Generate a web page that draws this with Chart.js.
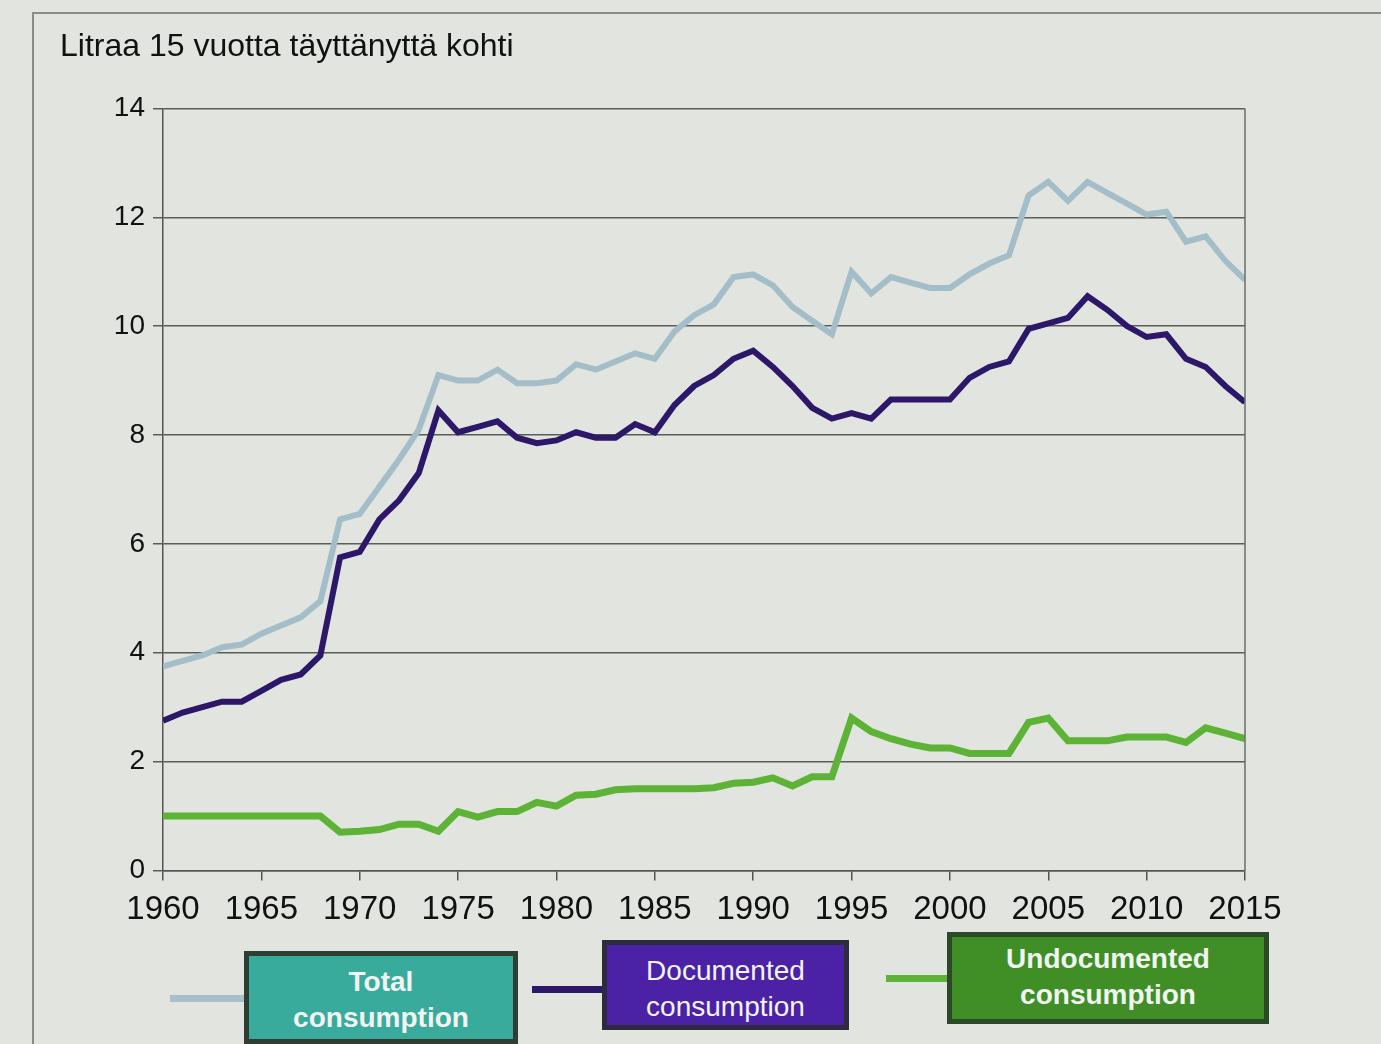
<!DOCTYPE html>
<html>
<head>
<meta charset="utf-8">
<script src="https://cdn.jsdelivr.net/npm/chart.js@4.4.1/dist/chart.umd.min.js"></script>
<style>
  html, body { margin: 0; padding: 0; }
  body { width: 1381px; height: 1044px; background: #e2e5df; position: relative; overflow: hidden; font-family: "Liberation Sans", Arial, sans-serif; }
  #frame { position: absolute; left: 32px; top: 12px; width: 1400px; height: 1100px; border-top: 2px solid #8a8c88; border-left: 2px solid #8a8c88; }
  #wrap { position: absolute; left: 0; top: 0; width: 1381px; height: 940px; }
  .leg-line { position: absolute; height: 7px; }
  .leg-box { position: absolute; color: #f2f4f2; font-size: 28px; text-align: center; line-height: 36px; box-sizing: border-box; border: 5px solid #2f3d33; }
</style>
</head>
<body>
<div id="frame"></div>
<div id="wrap"><canvas id="alcoholChart"></canvas></div>

<div class="leg-line" style="left:170px; top:995px; width:76px; background:#a9c0ca;"></div>
<div class="leg-box" style="left:244px; top:951px; width:274px; height:93px; background:#39ab9d; font-weight:bold; padding-top:8px;">Total<br>consumption</div>

<div class="leg-line" style="left:532px; top:986px; width:72px; background:#2c1768;"></div>
<div class="leg-box" style="left:602px; top:940px; width:247px; height:90px; background:#4b22a6; border-color:#2e2c3c; padding-top:8px;">Documented<br>consumption</div>

<div class="leg-line" style="left:886px; top:975px; width:64px; background:#5cb335;"></div>
<div class="leg-box" style="left:947px; top:932px; width:322px; height:92px; background:#3f8f26; border-color:#2d4a28; padding-top:4px; font-weight:bold;">Undocumented<br>consumption</div>

<script>
// Alcohol consumption in Finland, litres per inhabitant aged 15+
const years = [];
for (let y = 1960; y <= 2015; y++) years.push(y);

const totalConsumption = [
  3.75, 3.85, 3.95, 4.1, 4.15, 4.35, 4.5, 4.65, 4.95, 6.45,
  6.55, 7.05, 7.55, 8.1, 9.1, 9.0, 9.0, 9.2, 8.95, 8.95,
  9.0, 9.3, 9.2, 9.35, 9.5, 9.4, 9.9, 10.2, 10.4, 10.9,
  10.95, 10.75, 10.35, 10.1, 9.85, 11.0, 10.6, 10.9, 10.8, 10.7,
  10.7, 10.95, 11.15, 11.3, 12.4, 12.65, 12.3, 12.65, 12.45, 12.25,
  12.05, 12.1, 11.55, 11.65, 11.2, 10.85
];

const documentedConsumption = [
  2.75, 2.9, 3.0, 3.1, 3.1, 3.3, 3.5, 3.6, 3.95, 5.75,
  5.85, 6.45, 6.8, 7.3, 8.45, 8.05, 8.15, 8.25, 7.95, 7.85,
  7.9, 8.05, 7.95, 7.95, 8.2, 8.05, 8.55, 8.9, 9.1, 9.4,
  9.55, 9.25, 8.9, 8.5, 8.3, 8.4, 8.3, 8.65, 8.65, 8.65,
  8.65, 9.05, 9.25, 9.35, 9.95, 10.05, 10.15, 10.55, 10.3, 10.0,
  9.8, 9.85, 9.4, 9.25, 8.9, 8.6
];

const undocumentedConsumption = [
  1.0, 1.0, 1.0, 1.0, 1.0, 1.0, 1.0, 1.0, 1.0, 0.7,
  0.72, 0.75, 0.85, 0.85, 0.72, 1.08, 0.98, 1.08, 1.08, 1.25,
  1.18, 1.38, 1.4, 1.48, 1.5, 1.5, 1.5, 1.5, 1.52, 1.6,
  1.62, 1.7, 1.55, 1.72, 1.72, 2.8, 2.55, 2.42, 2.32, 2.25,
  2.25, 2.15, 2.15, 2.15, 2.72, 2.8, 2.38, 2.38, 2.38, 2.45,
  2.45, 2.45, 2.35, 2.62, 2.52, 2.42
];

const yTicks = [0, 2, 4, 6, 8, 10, 12, 14];

function toPoints(values) {
  return values.map((v, i) => ({ x: years[i], y: v }));
}

// right border of the plot area
const plotBorder = {
  id: 'plotBorder',
  afterDraw(chart) {
    const { ctx, chartArea } = chart;
    ctx.save();
    ctx.strokeStyle = '#6b6d69';
    ctx.lineWidth = 1.5;
    ctx.beginPath();
    ctx.moveTo(chartArea.right, chartArea.top);
    ctx.lineTo(chartArea.right, chartArea.bottom);
    ctx.stroke();
    ctx.restore();
  }
};

new Chart(document.getElementById('alcoholChart'), {
  type: 'line',
  data: {
    datasets: [
      {
        label: 'Total consumption',
        data: toPoints(totalConsumption),
        borderColor: '#a3bec8',
        borderWidth: 6,
        pointRadius: 0,
        tension: 0
      },
      {
        label: 'Documented consumption',
        data: toPoints(documentedConsumption),
        borderColor: '#2c1768',
        borderWidth: 6,
        pointRadius: 0,
        tension: 0
      },
      {
        label: 'Undocumented consumption',
        data: toPoints(undocumentedConsumption),
        borderColor: '#5cb335',
        borderWidth: 7,
        pointRadius: 0,
        tension: 0
      }
    ]
  },
  options: {
    responsive: true,
    maintainAspectRatio: false,
    animation: false,
    layout: { padding: { left: 60, right: 136, top: 0, bottom: 0 } },
    plugins: {
      legend: { display: false },
      tooltip: { enabled: false },
      title: {
        display: true,
        text: 'Litraa 15 vuotta täyttänyttä kohti',
        align: 'start',
        color: '#111',
        font: { family: '"Liberation Sans", Arial, sans-serif', size: 32, weight: 'normal' },
        padding: { top: 28, bottom: 42 }
      }
    },
    scales: {
      x: {
        type: 'linear',
        min: 1960,
        max: 2015,
        ticks: {
          stepSize: 5,
          color: '#111',
          padding: 10,
          font: { family: '"Liberation Sans", Arial, sans-serif', size: 33 },
          callback: v => String(v)
        },
        grid: { drawOnChartArea: false, drawTicks: true, tickLength: 10, color: '#555', lineWidth: 1.5 },
        border: { display: true, color: '#555', width: 1.5 }
      },
      y: {
        min: 0,
        max: 14,
        afterBuildTicks: axis => { axis.ticks = yTicks.map(v => ({ value: v })); },
        afterFit: axis => { axis.width = 103; },
        ticks: {
          color: '#111',
          padding: 8,
          font: { family: '"Liberation Sans", Arial, sans-serif', size: 28 }
        },
        grid: { color: '#5a5c58', lineWidth: 1.5, tickLength: 10 },
        border: { display: true, color: '#555', width: 1.5 }
      }
    }
  },
  plugins: [plotBorder]
});
</script>
</body>
</html>
